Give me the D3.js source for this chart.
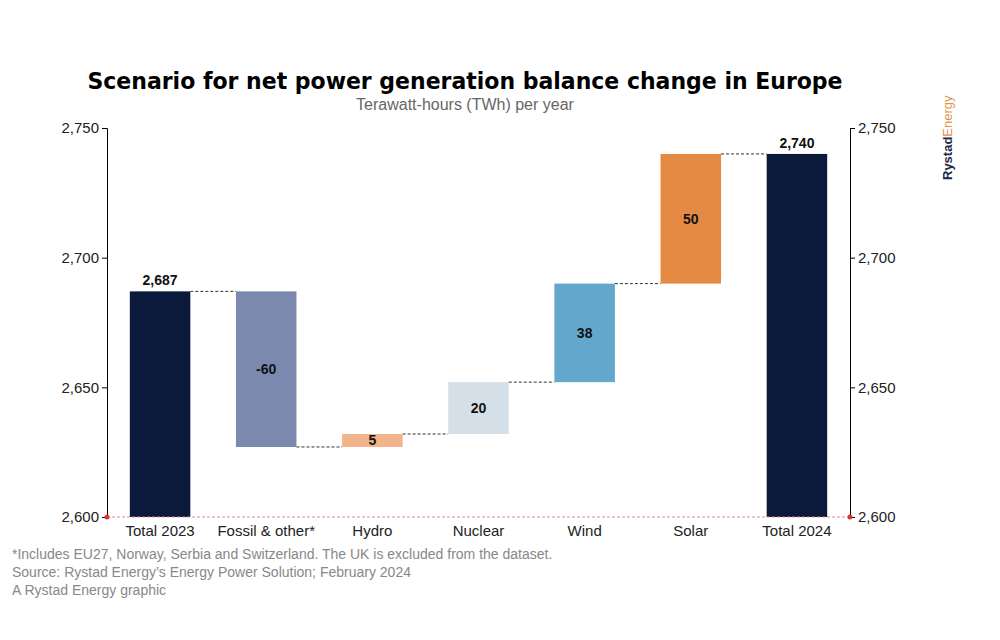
<!DOCTYPE html><html><head><meta charset="utf-8">
<script src="https://cdn.jsdelivr.net/npm/d3@7"></script>
<style>body{margin:0;background:#fff;font-family:"Liberation Sans",Arial,sans-serif}</style></head><body>
<svg id="c" width="1000" height="640"></svg>
<script>
const categories=["Total 2023","Fossil & other*","Hydro","Nuclear","Wind","Solar","Total 2024"];
const values=[2687,-60,5,20,38,50,2740];
const types=["total","delta","delta","delta","delta","delta","total"];
const colors=["#0b1a3b","#7a89ad","#f2b48b","#d5dfe8","#63a8cc","#e58a44","#0b1a3b"];
const labels=["2,687","-60","5","20","38","50","2,740"];
const yTicks=[2600,2650,2700,2750];

const svg=d3.select("#c");
const L=107,R=850,T=128,B=517;
const x=d3.scaleBand().domain(categories).range([L,R]).paddingInner(0.43).paddingOuter(0.215);
const y=d3.scaleLinear().domain([2600,2750]).range([B,T]);
let run=0;const segs=values.map((v,i)=>{let a,b;if(types[i]==="total"){a=2600;b=v;run=v;}else{a=run;b=run+v;run=b;}return {a,b,end:run};});

svg.append("text").attr("x",465).attr("y",89).attr("text-anchor","middle").attr("font-size",23).attr("font-weight","bold").attr("font-family","DejaVu Sans").attr("textLength",755).attr("lengthAdjust","spacingAndGlyphs").attr("fill","#000").text("Scenario for net power generation balance change in Europe");
svg.append("text").attr("x",465).attr("y",110).attr("text-anchor","middle").attr("font-size",16).attr("fill","#666").text("Terawatt-hours (TWh) per year");

const la=svg.append("g").attr("transform",`translate(${L},0)`).call(d3.axisLeft(y).tickValues(yTicks).tickFormat(d3.format(",")).tickSize(5));
const ra=svg.append("g").attr("transform",`translate(${R},0)`).call(d3.axisRight(y).tickValues(yTicks).tickFormat(d3.format(",")).tickSize(5));
[la,ra].forEach(g=>{g.selectAll("text").attr("font-size",15).attr("fill","#222").attr("font-family","Liberation Sans, Arial");g.select(".domain").attr("stroke","#000");});

segs.forEach((s,i)=>{
 const x0=x(categories[i]);
 svg.append("rect").attr("x",x0).attr("width",x.bandwidth()).attr("y",y(Math.max(s.a,s.b))).attr("height",Math.abs(y(s.a)-y(s.b))).attr("fill",colors[i]);
 if(i<segs.length-1){svg.append("line").attr("x1",x0+x.bandwidth()).attr("x2",x(categories[i+1])).attr("y1",y(s.end)).attr("y2",y(s.end)).attr("stroke","#333").attr("stroke-dasharray","3,2");}
 const ly=types[i]==="total"?y(s.b)-6:(y(s.a)+y(s.b))/2+5;
 svg.append("text").attr("x",x0+x.bandwidth()/2).attr("y",ly).attr("text-anchor","middle").attr("font-size",14).attr("font-weight","bold").attr("fill","#111").text(labels[i]);
});
svg.append("line").attr("x1",L).attr("x2",R).attr("y1",B).attr("y2",B).attr("stroke","#d98a8a").attr("stroke-dasharray","3,2");
[L,R].forEach(px=>svg.append("circle").attr("cx",px).attr("cy",B).attr("r",2.5).attr("fill","#d33"));
svg.append("g").attr("transform",`translate(0,${B})`).selectAll("text").data(categories).join("text").attr("x",d=>x(d)+x.bandwidth()/2).attr("y",19).attr("text-anchor","middle").attr("font-size",15).attr("fill","#222").text(d=>d);

const notes=["*Includes EU27, Norway, Serbia and Switzerland. The UK is excluded from the dataset.","Source: Rystad Energy’s Energy Power Solution; February 2024","A Rystad Energy graphic"];
svg.selectAll(".n").data(notes).join("text").attr("x",12).attr("y",(d,i)=>559+i*18).attr("font-size",14).attr("fill","#888").text(d=>d);
const lg=svg.append("text").attr("transform","translate(952,180) rotate(-90)").attr("font-size",13);
lg.append("tspan").attr("font-weight","bold").attr("fill","#1f2a44").text("Rystad");
lg.append("tspan").attr("fill","#e0954e").text("Energy");
</script></body></html>
